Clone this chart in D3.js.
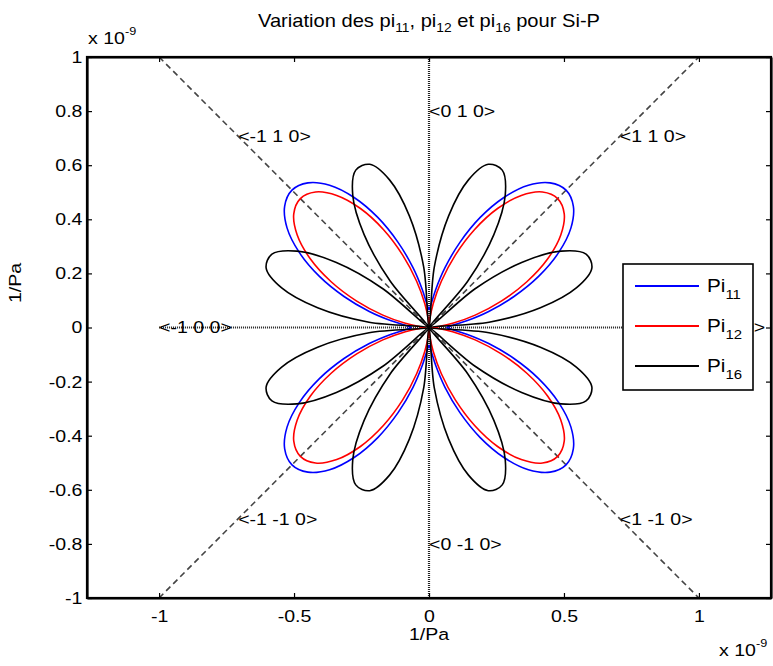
<!DOCTYPE html>
<meta charset="utf-8">
<title>Variation des pi</title>
<!-- Load d3.js -->
<script src="https://d3js.org/d3.v7.min.js"></script>
<style>
  body { margin: 0; background: #fff; }
  svg text { font-family: "Liberation Sans", Arial, sans-serif; fill: #000; }
</style>
<body>
<div id="my_dataviz"></div>
<script>

// polar data: radius (x 1e-9 1/Pa) every 5 degrees, 0..355
var angles = d3.range(0, 360, 5);
var pi11 = [0.066, 0.086, 0.142, 0.229, 0.335, 0.449, 0.555, 0.642, 0.698, 0.718, 0.698, 0.642, 0.555, 0.449, 0.335, 0.229, 0.142, 0.086,
            0.066, 0.086, 0.142, 0.229, 0.335, 0.449, 0.555, 0.642, 0.698, 0.718, 0.698, 0.642, 0.555, 0.449, 0.335, 0.229, 0.142, 0.086,
            0.066, 0.086, 0.142, 0.229, 0.335, 0.449, 0.555, 0.642, 0.698, 0.718, 0.698, 0.642, 0.555, 0.449, 0.335, 0.229, 0.142, 0.086,
            0.066, 0.086, 0.142, 0.229, 0.335, 0.449, 0.555, 0.642, 0.698, 0.718, 0.698, 0.642, 0.555, 0.449, 0.335, 0.229, 0.142, 0.086];
var pi12 = [0.011, 0.031, 0.089, 0.177, 0.285, 0.400, 0.508, 0.596, 0.654, 0.674, 0.654, 0.596, 0.508, 0.400, 0.285, 0.177, 0.089, 0.031,
            0.011, 0.031, 0.089, 0.177, 0.285, 0.400, 0.508, 0.596, 0.654, 0.674, 0.654, 0.596, 0.508, 0.400, 0.285, 0.177, 0.089, 0.031,
            0.011, 0.031, 0.089, 0.177, 0.285, 0.400, 0.508, 0.596, 0.654, 0.674, 0.654, 0.596, 0.508, 0.400, 0.285, 0.177, 0.089, 0.031,
            0.011, 0.031, 0.089, 0.177, 0.285, 0.400, 0.508, 0.596, 0.654, 0.674, 0.654, 0.596, 0.508, 0.400, 0.285, 0.177, 0.089, 0.031];
var pi16 = [0, 0.223, 0.419, 0.565, 0.642, 0.642, 0.565, 0.419, 0.223, 0, 0.223, 0.419, 0.565, 0.642, 0.642, 0.565, 0.419, 0.223,
            0, 0.223, 0.419, 0.565, 0.642, 0.642, 0.565, 0.419, 0.223, 0, 0.223, 0.419, 0.565, 0.642, 0.642, 0.565, 0.419, 0.223,
            0, 0.223, 0.419, 0.565, 0.642, 0.642, 0.565, 0.419, 0.223, 0, 0.223, 0.419, 0.565, 0.642, 0.642, 0.565, 0.419, 0.223,
            0, 0.223, 0.419, 0.565, 0.642, 0.642, 0.565, 0.419, 0.223, 0, 0.223, 0.419, 0.565, 0.642, 0.642, 0.565, 0.419, 0.223];

var legendSubs = ["11", "12", "16"];
var colors = ["#0000ff", "#ff0000", "#000000"];

var xTicks = [-1, -0.5, 0, 0.5, 1];
var yTicks = [-1, -0.8, -0.6, -0.4, -0.2, 0, 0.2, 0.4, 0.6, 0.8, 1];

// crystal directions
var dirLabels = ["<0 1 0>", "<-1 1 0>", "<1 1 0>", "<-1 0 0>", "<1 0 0>", "<-1 -1 0>", "<0 -1 0>", "<1 -1 0>"];
var dirX = [0, -0.7071, 0.7071, -1, 1, -0.7071, 0, 0.7071];
var dirY = [0.8, 0.7071, 0.7071, 0, 0, -0.7071, -0.8, -0.7071];

// set the dimensions and margins of the graph
var W = 773, H = 666;
var margin = {top: 57, right: 2, bottom: 68, left: 87};
var SX = 1.15; // text in the picture is a bit stretched

var svg = d3.select("#my_dataviz")
  .append("svg")
    .attr("width", W)
    .attr("height", H);

var x = d3.scaleLinear().domain([-1.267, 1.267]).range([margin.left, W - margin.right]);
var y = d3.scaleLinear().domain([-1, 1]).range([H - margin.bottom, margin.top]);

function label(px, py, anchor, size, rotate) {
  var g = svg.append("g")
    .attr("transform", "translate(" + px + "," + py + ")" + (rotate ? " rotate(" + rotate + ")" : "") + " scale(" + SX + ",1)");
  return g.append("text")
    .attr("text-anchor", anchor)
    .style("font-size", size + "px");
}

// plain hyphen minus like matlab
var fmt = function(d) { return String(d); };

// guide lines
var dashed = svg.append("g")
  .attr("stroke", "#444")
  .attr("stroke-width", 1.6)
  .attr("stroke-dasharray", "6,4");
dashed.append("line").attr("x1", x(-1)).attr("y1", y(1)).attr("x2", x(1)).attr("y2", y(-1));
dashed.append("line").attr("x1", x(-1)).attr("y1", y(-1)).attr("x2", x(1)).attr("y2", y(1));

var dotted = svg.append("g")
  .attr("stroke", "#222")
  .attr("stroke-width", 2.2)
  .attr("stroke-dasharray", "1,1");
dotted.append("line").attr("x1", x(-1)).attr("y1", y(0)).attr("x2", x(1)).attr("y2", y(0));
dotted.append("line").attr("x1", x(0)).attr("y1", y(-1)).attr("x2", x(0)).attr("y2", y(1));

// direction labels
dirLabels.forEach(function(t, i) {
  label(x(dirX[i]), y(dirY[i]), "start", 17)
    .attr("dy", "0.35em")
    .text(t);
});

// curves
var line = d3.line()
  .x(function(d) { return x(d[0]); })
  .y(function(d) { return y(d[1]); })
  .curve(d3.curveCatmullRomClosed.alpha(0.5));

[pi11, pi12, pi16].forEach(function(r, k) {
  var pts = angles.map(function(a, i) {
    var t = a * Math.PI / 180;
    return [r[i] * Math.cos(t), r[i] * Math.sin(t)];
  });
  svg.append("path")
    .datum(pts)
    .attr("d", line)
    .attr("fill", "none")
    .attr("stroke", colors[k])
    .attr("stroke-width", 1.6);
});

// axes
svg.append("g")
  .attr("transform", "translate(0," + y(-1) + ")")
  .call(d3.axisBottom(x).tickValues(xTicks).tickFormat(fmt).tickSizeInner(-5).tickSizeOuter(0).tickPadding(12));
svg.append("g")
  .attr("transform", "translate(" + x.range()[0] + ",0)")
  .call(d3.axisLeft(y).tickValues(yTicks).tickFormat(fmt).tickSizeInner(-5).tickSizeOuter(0).tickPadding(4));
svg.append("g")
  .attr("transform", "translate(0," + y(1) + ")")
  .call(d3.axisTop(x).tickValues(xTicks).tickFormat("").tickSizeInner(-5).tickSizeOuter(0));
svg.append("g")
  .attr("transform", "translate(" + x.range()[1] + ",0)")
  .call(d3.axisRight(y).tickValues(yTicks).tickFormat("").tickSizeInner(-5).tickSizeOuter(0));

svg.selectAll(".tick line").attr("stroke", "#000").attr("stroke-width", 1.2);
svg.selectAll(".domain").attr("stroke", "#000").attr("stroke-width", 2.2);
svg.selectAll(".tick text")
  .style("font-size", "17px")
  .attr("transform", "scale(" + SX + ",1)");

svg.append("rect")
  .attr("x", x.range()[0]).attr("y", y(1))
  .attr("width", x.range()[1] - x.range()[0]).attr("height", y(-1) - y(1))
  .attr("fill", "none").attr("stroke", "#000").attr("stroke-width", 2.2);

// title
var title = label((x.range()[0] + x.range()[1]) / 2, 27, "middle", 17.5);
title.append("tspan").text("Variation des pi");
title.append("tspan").attr("dy", 5).style("font-size", "12px").text("11");
title.append("tspan").attr("dy", -5).text(", pi");
title.append("tspan").attr("dy", 5).style("font-size", "12px").text("12");
title.append("tspan").attr("dy", -5).text(" et pi");
title.append("tspan").attr("dy", 5).style("font-size", "12px").text("16");
title.append("tspan").attr("dy", -5).text(" pour Si-P");

// axis labels
label(x(0), 640, "middle", 17).text("1/Pa");
label(21, 283, "middle", 17, -90).text("1/Pa");

// exponent labels
var e1 = label(88, 44, "start", 17);
e1.append("tspan").text("x 10");
e1.append("tspan").attr("dy", -9).style("font-size", "11px").text("-9");
var e2 = label(719, 656, "start", 17);
e2.append("tspan").text("x 10");
e2.append("tspan").attr("dy", -9).style("font-size", "11px").text("-9");

// legend (drawn over the <1 0 0> label, as in the picture)
var lg = svg.append("g").attr("transform", "translate(623,264)");
lg.append("rect")
  .attr("width", 130).attr("height", 126)
  .attr("fill", "#fff").attr("stroke", "#000").attr("stroke-width", 1.6);
legendSubs.forEach(function(s, i) {
  var ly = 22 + i * 40;
  lg.append("line")
    .attr("x1", 12).attr("x2", 76).attr("y1", ly).attr("y2", ly)
    .attr("stroke", colors[i]).attr("stroke-width", 2);
  var t = lg.append("g")
    .attr("transform", "translate(84," + (ly + 6) + ") scale(" + SX + ",1)")
    .append("text").style("font-size", "18px");
  t.append("tspan").text("Pi");
  t.append("tspan").attr("dy", 7).style("font-size", "13px").text(s);
});

</script>
</body>
